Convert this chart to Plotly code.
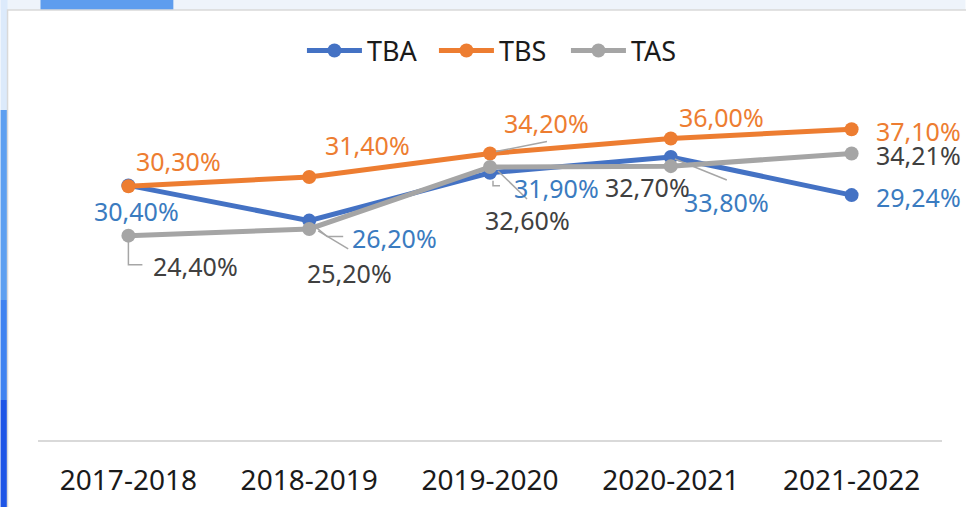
import plotly.graph_objects as go

# Academic years and the three rates (percent)
years = ["2017-2018", "2018-2019", "2019-2020", "2020-2021", "2021-2022"]
tba = [30.40, 26.20, 31.90, 33.80, 29.24]
tbs = [30.30, 31.40, 34.20, 36.00, 37.10]
tas = [24.40, 25.20, 32.60, 32.70, 34.21]

W, H = 966, 507
ML, MR, MT, MB = 37.5, 23.5, 105, 67
PW, PH = W - ML - MR, H - MT - MB

FONT = "Noto Sans"
C_TBA, C_TBS, C_TAS = "#4472C4", "#ED7D31", "#A5A5A5"
L_TBA, L_TBS, L_TAS = "#3A7BC0", "#ED7D31", "#404040"
LEADER = "#A6A6A6"


def px_x(p):
    return (p - ML) / PW


def px_y(p):
    return (H - MB - p) / PH


def fmt(v):
    return f"{v:.2f}".replace(".", ",") + "%"


fig = go.Figure()
for name, vals, col in [("TBA", tba, C_TBA), ("TBS", tbs, C_TBS), ("TAS", tas, C_TAS)]:
    fig.add_trace(go.Scatter(
        x=years, y=vals, name=name, mode="lines+markers",
        line=dict(color=col, width=5),
        marker=dict(color=col, size=14),
        cliponaxis=False,
    ))

# label offsets in pixels (dx, dy; dy positive = up)
offsets = {
    "TBA": [(8, -26), (85, -17), (66, -15), (56, -45), (67, -2)],
    "TBS": [(50, 25), (58, 32), (56, 31), (51, 22), (67, -2)],
    "TAS": [(67, -30), (40, -44), (37, -53), (-23, -21), (67, -2)],
}
annotations = []
for name, vals, col in [("TBA", tba, L_TBA), ("TBS", tbs, L_TBS), ("TAS", tas, L_TAS)]:
    for i, (yr, v) in enumerate(zip(years, vals)):
        dx, dy = offsets[name][i]
        annotations.append(dict(
            x=yr, y=v, xref="x", yref="y", text=fmt(v), showarrow=False,
            xshift=dx, yshift=dy, font=dict(family=FONT, size=25, color=col),
            xanchor="center", yanchor="middle",
        ))

shapes = []
# window background strips around the chart box
shapes.append(dict(type="rect", xref="paper", yref="paper", layer="below",
                   x0=px_x(0), x1=px_x(W), y0=px_y(0), y1=px_y(10),
                   fillcolor="#EEF4FB", line=dict(width=0)))
shapes.append(dict(type="rect", xref="paper", yref="paper", layer="below",
                   x0=px_x(40), x1=px_x(173), y0=px_y(0), y1=px_y(10),
                   fillcolor="#5E9DEE", line=dict(width=0)))
for y0, y1, c in [(0, 110, "#DCEAFB"), (110, 300, "#5D9FF0"), (300, 400, "#3F82F0"), (400, H, "#1E55E6")]:
    shapes.append(dict(type="rect", xref="paper", yref="paper", layer="below",
                       x0=px_x(0), x1=px_x(7), y0=px_y(y0), y1=px_y(y1),
                       fillcolor=c, line=dict(width=0)))
shapes.append(dict(type="rect", xref="paper", yref="paper", layer="below",
                   x0=px_x(7), x1=px_x(W + 5), y0=px_y(10), y1=px_y(H + 5),
                   fillcolor="white", line=dict(color="#D9D9D9", width=1.5)))

# leader lines, anchored on the data points, path in pixels (y up)
leaders = [
    (years[0], tas[0], "M 0,-6 L 0,-29 L 14,-29"),
    (years[1], tba[1], "M 6,-6 L 18,-16 L 34,-16"),
    (years[1], tas[1], "M 9,-2 L 39,-20"),
    (years[2], tba[2], "M 3,-8 L 3,-13 L 10,-13"),
    (years[2], tas[2], "M 8,-4 L 37,-32"),
    (years[2], tbs[2], "M 6,2 L 57,12"),
    (years[3], tba[3], "M 4,-2 L 56,-23"),
]
for xa, ya, path in leaders:
    shapes.append(dict(type="path", xref="x", yref="y", xsizemode="pixel", ysizemode="pixel",
                       xanchor=xa, yanchor=ya, path=path, layer="above",
                       line=dict(color=LEADER, width=1.5)))

fig.update_layout(
    width=W, height=H,
    margin=dict(l=ML, r=MR, t=MT, b=MB, pad=0, autoexpand=False),
    paper_bgcolor="white", plot_bgcolor="rgba(0,0,0,0)",
    font=dict(family=FONT, color="#1A1A1A"),
    showlegend=True,
    legend=dict(orientation="h", x=0.511, xanchor="center", xref="paper",
                y=1 - 51 / H, yanchor="middle", yref="container",
                font=dict(family=FONT, size=27, color="#1A1A1A"),
                itemwidth=55, entrywidth=62, tracegroupgap=0,
                bgcolor="rgba(0,0,0,0)"),
    xaxis=dict(type="category", range=[-0.5, 4.5], showgrid=False, zeroline=False,
               showline=True, linecolor="#D9D9D9", linewidth=2, automargin=False,
               ticks="", ticklabelstandoff=14,
               tickfont=dict(family=FONT, size=28, color="#1A1A1A")),
    yaxis=dict(range=[0, 40], showgrid=False, zeroline=False, showline=False,
               showticklabels=False, ticks="", automargin=False),
    annotations=annotations,
    shapes=shapes,
)

fig.write_html("out.html")
